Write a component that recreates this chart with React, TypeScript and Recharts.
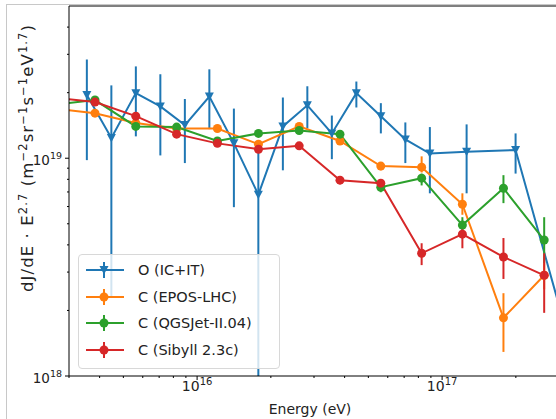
import React from 'react';
import { ComposedChart, Line, XAxis, YAxis, ErrorBar, ReferenceLine } from 'recharts';

const FONT = '"DejaVu Sans", sans-serif';

// O (IC+IT): energy bins (eV), flux and error band ends
const oEnergy = [3.548e15, 4.467e15, 5.623e15, 7.079e15, 8.913e15, 1.122e16, 1.413e16, 1.778e16, 2.239e16,
  2.818e16, 3.548e16, 4.467e16, 5.623e16, 7.079e16, 8.913e16, 1.259e17, 1.995e17, 3.162e17];
const oFlux = [1.95e19, 1.24e19, 1.99e19, 1.73e19, 1.42e19, 1.92e19, 1.17e19, 6.8e18, 1.4e19,
  1.75e19, 1.3e19, 1.99e19, 1.56e19, 1.22e19, 1.05e19, 1.07e19, 1.09e19, 1.71e18];
const oLow = [9.8e18, 2.28e18, 1.26e19, 1.03e19, 9.5e18, 1.36e19, 5.96e18, 1e18, 8.8e18,
  1.37e19, 9.9e18, 1.71e19, 1.3e19, 9.5e18, 6.9e18, 6.9e18, 8.5e18, 1.2e18];
const oHigh = [2.84e19, 2.16e19, 2.64e19, 2.43e19, 1.87e19, 2.56e19, 1.69e19, 1.15e19, 1.9e19,
  2.14e19, 1.57e19, 2.25e19, 1.79e19, 1.46e19, 1.39e19, 1.43e19, 1.3e19, 2.3e18];

// C (three hadronic models): shared energy bins; first bin lies left of the axis
const cEnergy = [2.61e15, 3.83e15, 5.62e15, 8.25e15, 1.21e16, 1.78e16, 2.61e16, 3.83e16, 5.62e16,
  8.25e16, 1.21e17, 1.78e17, 2.61e17];

const eposFlux = [1.69e19, 1.61e19, 1.45e19, 1.37e19, 1.37e19, 1.16e19, 1.4e19, 1.2e19, 9.2e18, 9.1e18, 6.15e18, 1.85e18, 2.9e18];
const eposLow = [1.69e19, 1.55e19, 1.4e19, 1.32e19, 1.32e19, 1.11e19, 1.35e19, 1.15e19, 8.8e18, 8.6e18, 5.5e18, 1.29e18, 2.5e18];
const eposHigh = [1.69e19, 1.67e19, 1.5e19, 1.42e19, 1.42e19, 1.21e19, 1.45e19, 1.25e19, 9.6e18, 1.02e19, 6.9e18, 2.4e18, 3.3e18];

const qgsFlux = [1.76e19, 1.85e19, 1.4e19, 1.39e19, 1.2e19, 1.3e19, 1.34e19, 1.29e19, 7.36e18, 8.1e18, 4.93e18, 7.28e18, 4.21e18];
const qgsLow = [1.76e19, 1.78e19, 1.35e19, 1.34e19, 1.16e19, 1.25e19, 1.29e19, 1.24e19, 6.98e18, 7.5e18, 4.53e18, 6.22e18, 3.3e18];
const qgsHigh = [1.76e19, 1.92e19, 1.45e19, 1.44e19, 1.24e19, 1.35e19, 1.39e19, 1.34e19, 7.9e18, 8.5e18, 5.36e18, 8.36e18, 5.36e18];

const sibFlux = [1.9e19, 1.81e19, 1.56e19, 1.29e19, 1.17e19, 1.1e19, 1.14e19, 7.93e18, 7.68e18, 3.66e18, 4.48e18, 3.52e18, 2.9e18];
const sibLow = [1.9e19, 1.75e19, 1.51e19, 1.25e19, 1.13e19, 1.06e19, 1.1e19, 7.6e18, 7.35e18, 3.23e18, 3.86e18, 2.79e18, 1.95e18];
const sibHigh = [1.9e19, 1.87e19, 1.61e19, 1.33e19, 1.21e19, 1.14e19, 1.18e19, 8.25e18, 8.0e18, 4.07e18, 4.82e18, 4.3e18, 3.66e18];

const xTicks = [3e15, 4e15, 5e15, 6e15, 7e15, 8e15, 9e15, 1e16, 2e16, 3e16, 4e16, 5e16, 6e16, 7e16, 8e16, 9e16, 1e17, 2e17, 3e17];
const yTicks = [1e18, 2e18, 3e18, 4e18, 5e18, 6e18, 7e18, 8e18, 9e18, 1e19, 2e19, 3e19, 4e19];

type Pt = { e: number; v: number; err: [number, number] };
const build = (es: number[], vs: number[], lo: number[], hi: number[]): Pt[] =>
  es.map((e, i) => ({ e, v: vs[i], err: [vs[i] - lo[i], hi[i] - vs[i]] }));

const series = [
  { name: 'O (IC+IT)', color: '#1f77b4', tri: true, data: build(oEnergy, oFlux, oLow, oHigh) },
  { name: 'C (EPOS-LHC)', color: '#ff7f0e', tri: false, data: build(cEnergy, eposFlux, eposLow, eposHigh) },
  { name: 'C (QGSJet-II.04)', color: '#2ca02c', tri: false, data: build(cEnergy, qgsFlux, qgsLow, qgsHigh) },
  { name: 'C (Sibyll 2.3c)', color: '#d62728', tri: false, data: build(cEnergy, sibFlux, sibLow, sibHigh) },
];

const isMajor = (v: number) => Math.abs(Math.log10(v) - Math.round(Math.log10(v))) < 1e-6;

const Marker = ({ cx, cy, color, tri }: { cx: number; cy: number; color: string; tri: boolean }) =>
  tri ? (
    <polygon points={`${cx - 4.5},${cy - 4} ${cx + 4.5},${cy - 4} ${cx},${cy + 4.5}`} fill={color} />
  ) : (
    <circle cx={cx} cy={cy} r={4.5} fill={color} />
  );

const XTick = (p: any) => {
  const { x, y, payload } = p;
  const major = isMajor(payload.value);
  return (
    <g>
      <line x1={x} x2={x} y1={y} y2={y + (major ? 4 : 2)} stroke="#000" strokeWidth={1} />
      {major && (
        <text x={x} y={y + 15} textAnchor="middle" fontSize={14} fill="#222" fontFamily={FONT}>
          10<tspan dy={-6} fontSize={10}>{Math.round(Math.log10(payload.value))}</tspan>
        </text>
      )}
    </g>
  );
};

const YTick = (p: any) => {
  const { x, y, payload } = p;
  const major = isMajor(payload.value);
  return (
    <g>
      <line x1={x} x2={x - (major ? 4 : 2)} y1={y} y2={y} stroke="#000" strokeWidth={1} />
      {major && (
        <text x={x - 7} y={y + 7} textAnchor="end" fontSize={13.5} fill="#222" fontFamily={FONT}>
          10<tspan dy={-6} fontSize={9.5}>{Math.round(Math.log10(payload.value))}</tspan>
        </text>
      )}
    </g>
  );
};

const YLabel = () => (
  <text transform="translate(33,158) rotate(-90)" textAnchor="middle" fontSize={16.5} letterSpacing={1.1}
    fill="#222" fontFamily={FONT}>
    dJ/dE · E<tspan dy={-6} fontSize={11.5}>2.7</tspan>
    <tspan dy={6}> (m</tspan><tspan dy={-6} fontSize={11.5}>−2</tspan>
    <tspan dy={6}>sr</tspan><tspan dy={-6} fontSize={11.5}>−1</tspan>
    <tspan dy={6}>s</tspan><tspan dy={-6} fontSize={11.5}>−1</tspan>
    <tspan dy={6}>eV</tspan><tspan dy={-6} fontSize={11.5}>1.7</tspan>
    <tspan dy={6}>)</tspan>
  </text>
);

const XLabel = () => (
  <text x={310} y={414} textAnchor="middle" fontSize={14} fill="#222" fontFamily={FONT}>
    Energy (eV)
  </text>
);

function LegendBox() {
  return (
    <div style={{
      position: 'absolute', left: 78, top: 254, width: 200, height: 113,
      border: '1px solid #d8d8d8', borderRadius: 4, background: 'rgba(255,255,255,0.8)',
    }}>
      {series.map((s, i) => (
        <div key={s.name} style={{ position: 'absolute', left: 6, top: 5 + 26.7 * i, height: 20, display: 'flex', alignItems: 'center' }}>
          <svg width={40} height={20}>
            <line x1={1} x2={39} y1={10} y2={10} stroke={s.color} strokeWidth={2} />
            <line x1={19} x2={19} y1={2} y2={18} stroke={s.color} strokeWidth={2} />
            <Marker cx={19} cy={10} color={s.color} tri={s.tri} />
          </svg>
          <span style={{ marginLeft: 13, fontSize: 14.5, color: '#222', fontFamily: FONT, whiteSpace: 'nowrap' }}>{s.name}</span>
        </div>
      ))}
    </div>
  );
}

export default function App() {
  return (
    <div style={{ position: 'absolute', left: 0, top: 0, width: 556, height: 419, overflow: 'hidden', background: '#fff' }}>
      <div style={{ position: 'absolute', left: 6, top: 4, width: 600, height: 500, border: '1px solid #c8c8c8' }} />
      <ComposedChart width={572} height={419} margin={{ top: 6, right: 13, bottom: 13, left: 9 }}
        style={{ position: 'absolute', left: 0, top: 0 }}>
        <XAxis dataKey="e" type="number" scale="log" domain={[3e15, 3e17]} allowDataOverflow
          ticks={xTicks} interval={0} tick={<XTick />} tickLine={false} tickSize={0} tickMargin={0}
          height={30} axisLine={{ stroke: '#000', strokeWidth: 1 }} label={<XLabel />} />
        <YAxis type="number" scale="log" domain={[1e18, 5e19]} allowDataOverflow
          ticks={yTicks} interval={0} tick={<YTick />} tickLine={false} tickSize={0} tickMargin={0}
          width={60} axisLine={{ stroke: '#000', strokeWidth: 1 }} label={<YLabel />} />
        <ReferenceLine y={5e19} stroke="#000" strokeWidth={1} />
        {series.map((s) => (
          <Line key={s.name} data={s.data} dataKey="v" stroke={s.color} strokeWidth={2}
            isAnimationActive={false} activeDot={false}
            dot={(p: any) => (p.cx == null || p.cy == null ? <g key={p.index} /> :
              <Marker key={p.index} cx={p.cx} cy={p.cy} color={s.color} tri={s.tri} />)}>
            <ErrorBar dataKey="err" direction="y" width={0} stroke={s.color} strokeWidth={2} isAnimationActive={false} />
          </Line>
        ))}
      </ComposedChart>
      <LegendBox />
    </div>
  );
}
